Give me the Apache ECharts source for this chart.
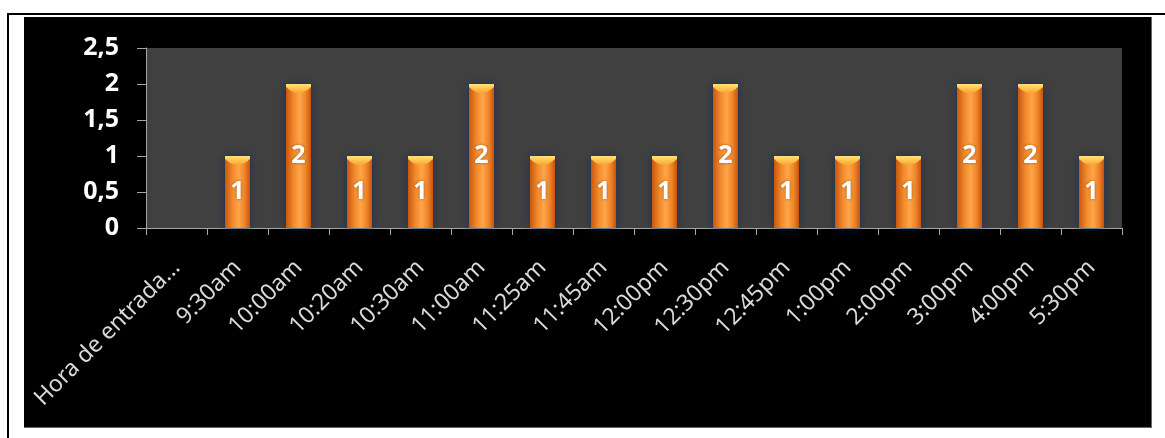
<!DOCTYPE html>
<html>
<head>
<meta charset="utf-8">
<script src="https://cdn.jsdelivr.net/npm/echarts@6/dist/echarts.min.js"></script>
<style>
  html, body { margin: 0; padding: 0; background: #ffffff; }
  #wrap { position: relative; width: 1165px; height: 438px; overflow: hidden; background: #ffffff; }
  #lineTop { position: absolute; left: 7px; top: 13px; width: 1158px; height: 2px; background: #000; }
  #lineLeft { position: absolute; left: 7px; top: 13px; width: 2px; height: 425px; background: #000; }
  #panel { position: absolute; left: 24px; top: 17px; width: 1127px; height: 410px; background: #000; border-right: 1px solid #666; border-bottom: 1px solid #666; }
  #chart { position: absolute; left: 0; top: 0; width: 1165px; height: 438px; }
</style>
</head>
<body>
<div id="wrap">
  <div id="lineTop"></div>
  <div id="lineLeft"></div>
  <div id="panel"></div>
  <div id="chart"></div>
</div>
<script>
const categories = ['Hora de entrada...', '9:30am', '10:00am', '10:20am', '10:30am', '11:00am', '11:25am', '11:45am', '12:00pm', '12:30pm', '12:45pm', '1:00pm', '2:00pm', '3:00pm', '4:00pm', '5:30pm'];
const values = [null, 1, 2, 1, 1, 2, 1, 1, 1, 2, 1, 1, 1, 2, 2, 1];
const yTicks = { min: 0, max: 2.5, interval: 0.5 };

const chart = echarts.init(document.getElementById('chart'), null, { renderer: 'canvas' });
const bodyGradient = new echarts.graphic.LinearGradient(0, 0, 1, 0, [
  { offset: 0, color: '#c8560e' },
  { offset: 0.3, color: '#f08a2c' },
  { offset: 0.55, color: '#ffa54a' },
  { offset: 0.8, color: '#ee8226' },
  { offset: 1, color: '#c45410' }
]);
const capGradient = new echarts.graphic.LinearGradient(0, 0, 0, 1, [
  { offset: 0, color: '#ffe27a' },
  { offset: 1, color: '#f9a628' }
]);
chart.setOption({
  animation: false,
  backgroundColor: 'transparent',
  grid: { left: 146, right: 43, top: 48, bottom: 210, show: true, backgroundColor: '#404040', borderWidth: 0 },
  xAxis: {
    type: 'category',
    data: categories,
    axisLine: { show: true, lineStyle: { color: '#a6a6a6', width: 1 } },
    axisTick: { show: true, length: 7, lineStyle: { color: '#a6a6a6' } },
    axisLabel: { rotate: 45, interval: 0, margin: 36, color: '#d9d9d9', fontSize: 23, fontFamily: 'Noto Sans' },
    splitLine: { show: false }
  },
  yAxis: {
    type: 'value',
    min: yTicks.min, max: yTicks.max, interval: yTicks.interval,
    axisLine: { show: true, lineStyle: { color: '#a6a6a6', width: 1 } },
    axisTick: { show: true, length: 9, lineStyle: { color: '#a6a6a6' } },
    axisLabel: { margin: 27, color: '#ffffff', fontSize: 25, fontWeight: 'bold', fontFamily: 'Noto Sans',
      formatter: v => String(v).replace('.', ',') },
    splitLine: { show: false }
  },
  series: [
    {
      type: 'bar',
      data: values,
      barWidth: 25,
      itemStyle: { color: bodyGradient, shadowColor: 'rgba(20,40,80,0.8)', shadowBlur: 8 },
      label: { show: true, position: 'inside', color: '#ffffff', fontSize: 25, fontWeight: 'bold', fontFamily: 'Noto Sans',
        textShadowColor: 'rgba(120,50,0,0.7)', textShadowBlur: 3 },
      z: 2
    },
    {
      type: 'pictorialBar',
      data: values,
      symbol: 'path://M0,0 L20,0 L20,2 Q10,10 0,2 Z',
      symbolSize: [25, 9],
      symbolPosition: 'end',
      symbolOffset: [0, 0],
      itemStyle: { color: capGradient },
      silent: true,
      z: 3
    }
  ]
});
</script>
</body>
</html>
